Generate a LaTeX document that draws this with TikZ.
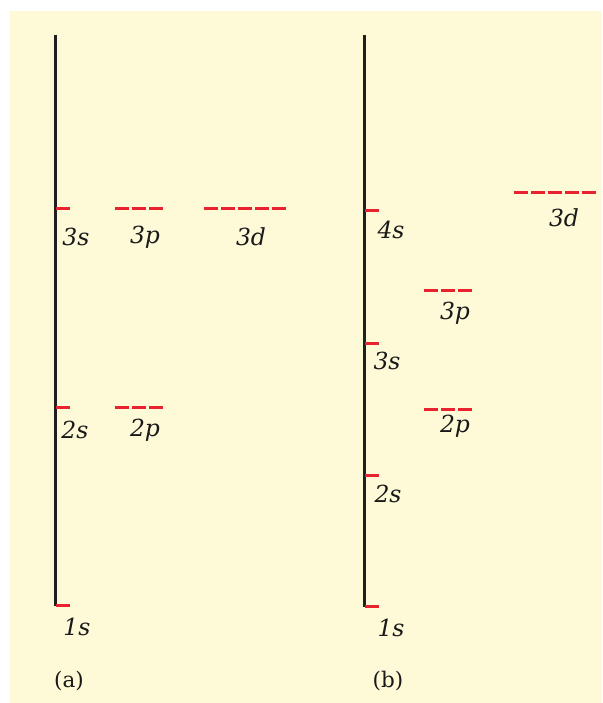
\documentclass[tikz,border=0pt]{standalone}
\usepackage{fontspec}
\newfontfamily\lblfont{DejaVu Serif}
\begin{document}
\begin{tikzpicture}[x=1pt,y=-1pt,
  axis/.style={draw=black!88, line width=3pt},
  tickmark/.style={draw=orbred, line width=3pt},
  orb/.style={draw=orbred, line width=3pt, dash pattern=on 14pt off 3pt},
  lbl/.style={inner sep=0pt, font=\lblfont\fontsize{23.5}{27}\selectfont\itshape, text=black!90},
  captxt/.style={inner sep=0pt, font=\lblfont\fontsize{21.5}{25}\selectfont, text=black!90}]
\definecolor{orbred}{HTML}{E8222E}
\definecolor{bgyellow}{HTML}{FEFAD8}
\useasboundingbox (0,0) rectangle (602,703);
\fill[white] (0,0) rectangle (602,703);
\fill[bgyellow] (10,11) rectangle (602,703);
% ---------- (a)
\coordinate (aT) at (55,35);
\coordinate (aB) at (55,606);
\draw[axis] (aT) -- (aB);
\coordinate (a3s0) at (56,209); \coordinate (a3s1) at (70,209);
\coordinate (a2s0) at (56,407); \coordinate (a2s1) at (70,407);
\coordinate (a1s0) at (56,605); \coordinate (a1s1) at (70,605);
\draw[tickmark] (a3s0) -- (a3s1);
\draw[tickmark] (a2s0) -- (a2s1);
\draw[tickmark] (a1s0) -- (a1s1);
\coordinate (a3p0) at (115,209); \coordinate (a3p1) at (163,209);
\coordinate (a3d0) at (204,209); \coordinate (a3d1) at (286,209);
\coordinate (a2p0) at (115,407); \coordinate (a2p1) at (163,407);
\draw[orb] (a3p0) -- (a3p1);
\draw[orb] (a3d0) -- (a3d1);
\draw[orb] (a2p0) -- (a2p1);
\node[lbl] (la3s) at (76,237) {3s};
\node[lbl] (la3p) at (145,237) {3p};
\node[lbl] (la3d) at (251,237) {3d};
\node[lbl] (la2s) at (75,430) {2s};
\node[lbl] (la2p) at (145,430) {2p};
\node[lbl] (la1s) at (77,627) {1s};
\node[captxt] (capa) at (69,681) {(a)};
% ---------- (b)
\coordinate (bT) at (364,35);
\coordinate (bB) at (364,607);
\draw[axis] (bT) -- (bB);
\coordinate (b4s0) at (365,211); \coordinate (b4s1) at (379,211);
\coordinate (b3s0) at (365,343); \coordinate (b3s1) at (379,343);
\coordinate (b2s0) at (365,475); \coordinate (b2s1) at (379,475);
\coordinate (b1s0) at (365,606); \coordinate (b1s1) at (379,606);
\draw[tickmark] (b4s0) -- (b4s1);
\draw[tickmark] (b3s0) -- (b3s1);
\draw[tickmark] (b2s0) -- (b2s1);
\draw[tickmark] (b1s0) -- (b1s1);
\coordinate (b3p0) at (424,290); \coordinate (b3p1) at (472,290);
\coordinate (b2p0) at (424,409); \coordinate (b2p1) at (472,409);
\coordinate (b3d0) at (514,193); \coordinate (b3d1) at (596,193);
\draw[orb] (b3p0) -- (b3p1);
\draw[orb] (b2p0) -- (b2p1);
\draw[orb] (b3d0) -- (b3d1);
\node[lbl] (lb4s) at (391,230) {4s};
\node[lbl] (lb3s) at (387,361) {3s};
\node[lbl] (lb2s) at (388,494) {2s};
\node[lbl] (lb1s) at (391,628) {1s};
\node[lbl] (lb3p) at (455,313) {3p};
\node[lbl] (lb2p) at (455,426) {2p};
\node[lbl] (lb3d) at (564,218) {3d};
\node[captxt] (capb) at (388,681) {(b)};
\end{tikzpicture}
\end{document}
